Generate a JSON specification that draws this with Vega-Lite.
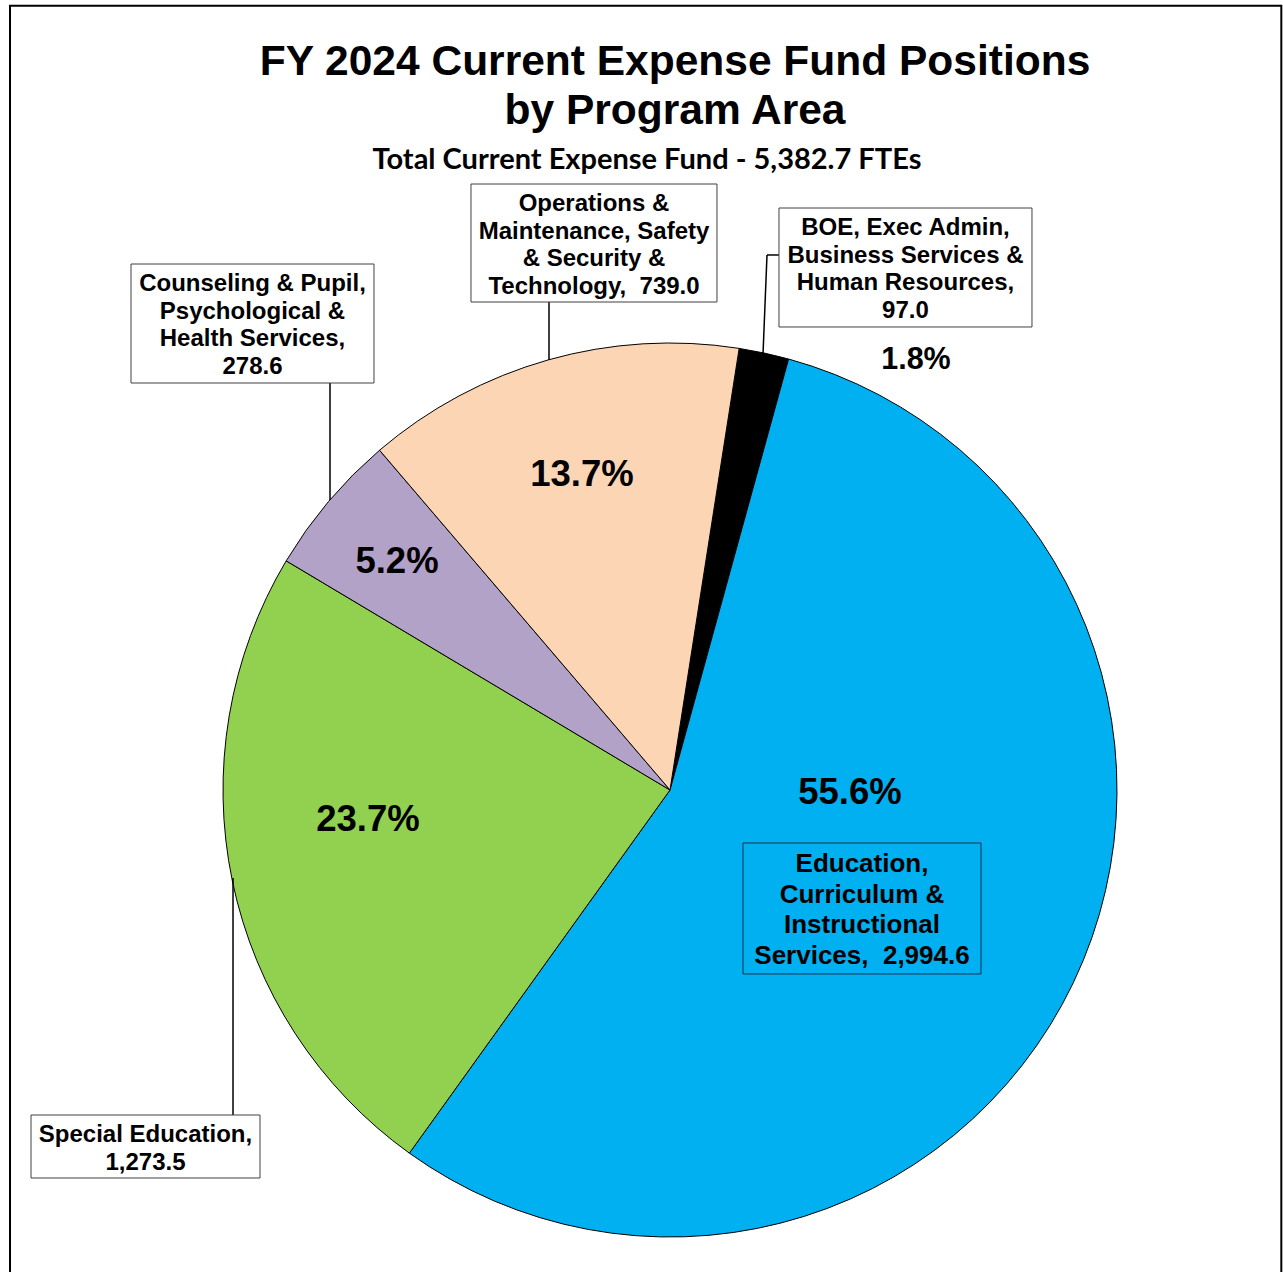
{
  "$schema": "https://vega.github.io/schema/vega-lite/v6.json",
  "width": 894,
  "height": 894,
  "autosize": "none",
  "padding": {"left": 223, "top": 343, "right": 166, "bottom": 35},
  "background": "white",
  "title": {
    "text": ["FY 2024 Current Expense Fund Positions", "by Program Area"],
    "font": "Liberation Sans",
    "fontSize": 42.5,
    "fontWeight": "bold",
    "lineHeight": 49,
    "color": "black",
    "anchor": "middle",
    "dx": 5,
    "offset": -128
  },
  "config": {"view": {"stroke": null}, "axis": {"disable": true}},
  "data": {
    "values": [
      {"area": "BOE, Exec Admin, Business Services & Human Resources", "ftes": 97.0, "share": 0.018, "ord": 1, "label": "BOE, Exec Admin,\nBusiness Services &\nHuman Resources,\n97.0"},
      {"area": "Education, Curriculum & Instructional Services", "ftes": 2994.6, "share": 0.556, "ord": 2, "label": "Education,\nCurriculum &\nInstructional\nServices,\u00a0 2,994.6"},
      {"area": "Special Education", "ftes": 1273.5, "share": 0.237, "ord": 3, "label": "Special Education,\n1,273.5"},
      {"area": "Counseling & Pupil, Psychological & Health Services", "ftes": 278.6, "share": 0.052, "ord": 4, "label": "Counseling & Pupil,\nPsychological &\nHealth Services,\n278.6"},
      {"area": "Operations & Maintenance, Safety & Security & Technology", "ftes": 739.0, "share": 0.137, "ord": 5, "label": "Operations &\nMaintenance, Safety\n& Security &\nTechnology,\u00a0 739.0"}
    ]
  },
  "layer": [
    {
      "data": {"values": [{}]},
      "mark": {"type": "rect", "fill": "transparent", "stroke": "black", "strokeWidth": 2},
      "encoding": {
        "x": {"datum": -1.4765, "type": "quantitative", "scale": {"domain": [-1, 1], "nice": false, "zero": false}, "axis": null},
        "x2": {"datum": 1.3676},
        "y": {"datum": 1.7546, "type": "quantitative", "scale": {"domain": [-1, 1], "nice": false, "zero": false}, "axis": null},
        "y2": {"datum": -1.1409}
      }
    },
    {
      "data": {"values": [{"t": "Total Current Expense Fund - 5,382.7 FTEs"}]},
      "mark": {"type": "text", "font": "Lato", "fontWeight": "bold", "fontSize": 29, "align": "center", "baseline": "middle", "color": "black"},
      "encoding": {
        "text": {"field": "t"},
        "x": {"datum": -0.0515},
        "y": {"datum": 1.4094}
      }
    },
    {
      "mark": {"type": "arc", "stroke": "black", "strokeWidth": 1},
      "encoding": {
        "theta": {"field": "ftes", "type": "quantitative", "stack": true, "scale": {"range": [0.1553, 6.4385]}},
        "order": {"field": "ord", "type": "quantitative"},
        "color": {
          "field": "area",
          "type": "nominal",
          "scale": {
            "domain": [
              "BOE, Exec Admin, Business Services & Human Resources",
              "Education, Curriculum & Instructional Services",
              "Special Education",
              "Counseling & Pupil, Psychological & Health Services",
              "Operations & Maintenance, Safety & Security & Technology"
            ],
            "range": ["#000000", "#00B0F0", "#92D050", "#B3A2C7", "#FCD5B5"]
          },
          "legend": null
        }
      }
    },
    {
      "transform": [{"filter": {"field": "ord", "equal": 2}}],
      "mark": {"type": "text", "font": "Liberation Sans", "fontWeight": "bold", "fontSize": 36.5, "align": "center", "baseline": "middle", "color": "black"},
      "encoding": {"text": {"field": "share", "type": "quantitative", "format": ".1%"}, "x": {"datum": 0.4027}, "y": {"datum": -0.0067}}
    },
    {
      "transform": [{"filter": {"field": "ord", "equal": 3}}],
      "mark": {"type": "text", "font": "Liberation Sans", "fontWeight": "bold", "fontSize": 36.5, "align": "center", "baseline": "middle", "color": "black"},
      "encoding": {"text": {"field": "share", "type": "quantitative", "format": ".1%"}, "x": {"datum": -0.6756}, "y": {"datum": -0.0671}}
    },
    {
      "transform": [{"filter": {"field": "ord", "equal": 4}}],
      "mark": {"type": "text", "font": "Liberation Sans", "fontWeight": "bold", "fontSize": 36.5, "align": "center", "baseline": "middle", "color": "black"},
      "encoding": {"text": {"field": "share", "type": "quantitative", "format": ".1%"}, "x": {"datum": -0.6107}, "y": {"datum": 0.5101}}
    },
    {
      "transform": [{"filter": {"field": "ord", "equal": 5}}],
      "mark": {"type": "text", "font": "Liberation Sans", "fontWeight": "bold", "fontSize": 36.5, "align": "center", "baseline": "middle", "color": "black"},
      "encoding": {"text": {"field": "share", "type": "quantitative", "format": ".1%"}, "x": {"datum": -0.1969}, "y": {"datum": 0.7047}}
    },
    {
      "transform": [{"filter": {"field": "ord", "equal": 1}}],
      "mark": {"type": "text", "font": "Liberation Sans", "fontWeight": "bold", "fontSize": 30.5, "align": "center", "baseline": "middle", "color": "black"},
      "encoding": {"text": {"field": "share", "type": "quantitative", "format": ".1%"}, "x": {"datum": 0.5503}, "y": {"datum": 0.9620}}
    },
    {
      "transform": [{"filter": {"field": "ord", "equal": 1}}],
      "layer": [
        {"mark": {"type": "rule", "color": "black", "strokeWidth": 1.5}, "encoding": {"x": {"datum": 0.2170}, "y": {"datum": 1.1969}, "x2": {"datum": 0.2438}, "y2": {"datum": 1.1969}}},
        {"mark": {"type": "rule", "color": "black", "strokeWidth": 1.5}, "encoding": {"x": {"datum": 0.2170}, "y": {"datum": 1.1969}, "x2": {"datum": 0.2081}, "y2": {"datum": 0.9754}}},
        {"mark": {"type": "rect", "fill": "white", "stroke": "#404040", "strokeWidth": 1}, "encoding": {"x": {"datum": 0.2438}, "x2": {"datum": 0.8098}, "y": {"datum": 1.3020}, "y2": {"datum": 1.0358}}},
        {"mark": {"type": "text", "font": "Liberation Sans", "fontWeight": "bold", "fontSize": 24, "lineHeight": 27.8, "lineBreak": "\n", "align": "center", "baseline": "middle", "dy": -41.7, "color": "black"}, "encoding": {"text": {"field": "label"}, "x": {"datum": 0.5268}, "y": {"datum": 1.1644}}}
      ]
    },
    {
      "transform": [{"filter": {"field": "ord", "equal": 2}}],
      "layer": [
        {"mark": {"type": "rect", "fill": "transparent", "stroke": "#1F3048", "strokeWidth": 1}, "encoding": {"x": {"datum": 0.1633}, "x2": {"datum": 0.6957}, "y": {"datum": -0.1186}, "y2": {"datum": -0.4116}}},
        {"mark": {"type": "text", "font": "Liberation Sans", "fontWeight": "bold", "fontSize": 26, "lineHeight": 30.7, "lineBreak": "\n", "align": "center", "baseline": "middle", "dy": -46.05, "color": "black"}, "encoding": {"text": {"field": "label"}, "x": {"datum": 0.4295}, "y": {"datum": -0.2685}}}
      ]
    },
    {
      "transform": [{"filter": {"field": "ord", "equal": 3}}],
      "layer": [
        {"mark": {"type": "rule", "color": "black", "strokeWidth": 1.5}, "encoding": {"x": {"datum": -0.9776}, "y": {"datum": -0.7271}, "x2": {"datum": -0.9776}, "y2": {"datum": -0.1969}}},
        {"mark": {"type": "rect", "fill": "white", "stroke": "#404040", "strokeWidth": 1}, "encoding": {"x": {"datum": -1.4295}, "x2": {"datum": -0.9172}, "y": {"datum": -0.7271}, "y2": {"datum": -0.8680}}},
        {"mark": {"type": "text", "font": "Liberation Sans", "fontWeight": "bold", "fontSize": 24, "lineHeight": 27.8, "lineBreak": "\n", "align": "center", "baseline": "middle", "dy": -13.9, "color": "black"}, "encoding": {"text": {"field": "label"}, "x": {"datum": -1.1734}, "y": {"datum": -0.8032}}}
      ]
    },
    {
      "transform": [{"filter": {"field": "ord", "equal": 4}}],
      "layer": [
        {"mark": {"type": "rule", "color": "black", "strokeWidth": 1.5}, "encoding": {"x": {"datum": -0.7606}, "y": {"datum": 0.9105}, "x2": {"datum": -0.7606}, "y2": {"datum": 0.6488}}},
        {"mark": {"type": "rect", "fill": "white", "stroke": "#404040", "strokeWidth": 1}, "encoding": {"x": {"datum": -1.2058}, "x2": {"datum": -0.6622}, "y": {"datum": 1.1767}, "y2": {"datum": 0.9105}}},
        {"mark": {"type": "text", "font": "Liberation Sans", "fontWeight": "bold", "fontSize": 24, "lineHeight": 27.8, "lineBreak": "\n", "align": "center", "baseline": "middle", "dy": -41.7, "color": "black"}, "encoding": {"text": {"field": "label"}, "x": {"datum": -0.9340}, "y": {"datum": 1.0391}}}
      ]
    },
    {
      "transform": [{"filter": {"field": "ord", "equal": 5}}],
      "layer": [
        {"mark": {"type": "rule", "color": "black", "strokeWidth": 1.5}, "encoding": {"x": {"datum": -0.2707}, "y": {"datum": 1.0917}, "x2": {"datum": -0.2707}, "y2": {"datum": 0.9620}}},
        {"mark": {"type": "rect", "fill": "white", "stroke": "#404040", "strokeWidth": 1}, "encoding": {"x": {"datum": -0.4452}, "x2": {"datum": 0.1051}, "y": {"datum": 1.3557}, "y2": {"datum": 1.0917}}},
        {"mark": {"type": "text", "font": "Liberation Sans", "fontWeight": "bold", "fontSize": 24, "lineHeight": 27.8, "lineBreak": "\n", "align": "center", "baseline": "middle", "dy": -41.7, "color": "black"}, "encoding": {"text": {"field": "label"}, "x": {"datum": -0.1700}, "y": {"datum": 1.2181}}}
      ]
    }
  ]
}
